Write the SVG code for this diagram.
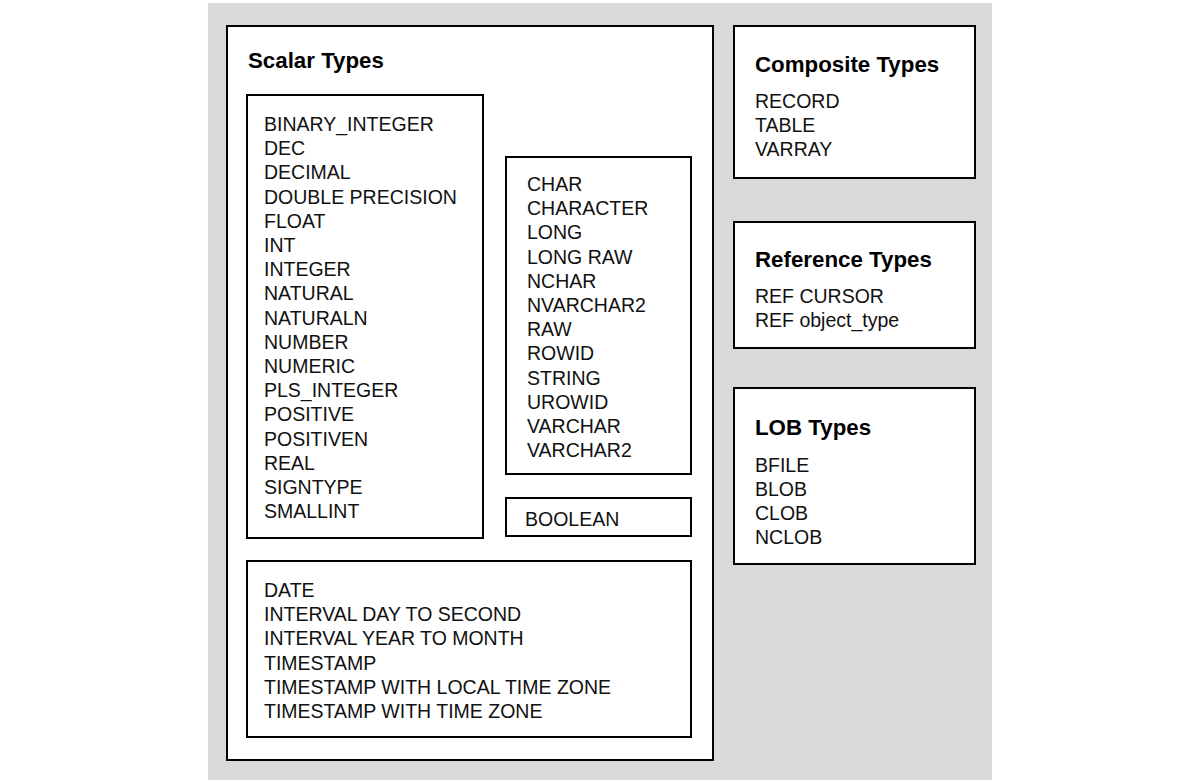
<svg xmlns="http://www.w3.org/2000/svg" width="1200" height="780" viewBox="0 0 1200 780">
<style>
.box{fill:#fff;stroke:#000;stroke-width:2}
.t{font-family:"Liberation Sans",Arial,sans-serif;font-size:19.5px;fill:#111}
.h{font-family:"Liberation Sans",Arial,sans-serif;font-size:22.3px;font-weight:bold;fill:#000}
</style>
<rect x="0" y="0" width="1200" height="780" fill="#fff"/>
<rect x="208" y="3" width="784" height="777" fill="#d9d9d9"/>
<g id="scalar">
<rect class="box" x="227" y="26" width="486" height="734"/>
<text class="h" x="248" y="68">Scalar Types</text>
</g>
<g id="numeric">
<rect class="box" x="247" y="95" width="236" height="443"/>
<text class="t" x="264" y="131">BINARY_INTEGER</text>
<text class="t" x="264" y="155.2">DEC</text>
<text class="t" x="264" y="179.4">DECIMAL</text>
<text class="t" x="264" y="203.6">DOUBLE PRECISION</text>
<text class="t" x="264" y="227.8">FLOAT</text>
<text class="t" x="264" y="252">INT</text>
<text class="t" x="264" y="276.2">INTEGER</text>
<text class="t" x="264" y="300.4">NATURAL</text>
<text class="t" x="264" y="324.6">NATURALN</text>
<text class="t" x="264" y="348.8">NUMBER</text>
<text class="t" x="264" y="373">NUMERIC</text>
<text class="t" x="264" y="397.2">PLS_INTEGER</text>
<text class="t" x="264" y="421.4">POSITIVE</text>
<text class="t" x="264" y="445.6">POSITIVEN</text>
<text class="t" x="264" y="469.8">REAL</text>
<text class="t" x="264" y="494">SIGNTYPE</text>
<text class="t" x="264" y="518.2">SMALLINT</text>
</g>
<g id="character">
<rect class="box" x="506" y="157" width="185" height="317"/>
<text class="t" x="527" y="191">CHAR</text>
<text class="t" x="527" y="215.2">CHARACTER</text>
<text class="t" x="527" y="239.4">LONG</text>
<text class="t" x="527" y="263.6">LONG RAW</text>
<text class="t" x="527" y="287.8">NCHAR</text>
<text class="t" x="527" y="312">NVARCHAR2</text>
<text class="t" x="527" y="336.2">RAW</text>
<text class="t" x="527" y="360.4">ROWID</text>
<text class="t" x="527" y="384.6">STRING</text>
<text class="t" x="527" y="408.8">UROWID</text>
<text class="t" x="527" y="433">VARCHAR</text>
<text class="t" x="527" y="457.2">VARCHAR2</text>
</g>
<g id="boolean">
<rect class="box" x="506" y="498" width="185" height="38"/>
<text class="t" x="525" y="526">BOOLEAN</text>
</g>
<g id="datetime">
<rect class="box" x="247" y="561" width="444" height="176"/>
<text class="t" x="264" y="597">DATE</text>
<text class="t" x="264" y="621.2">INTERVAL DAY TO SECOND</text>
<text class="t" x="264" y="645.4">INTERVAL YEAR TO MONTH</text>
<text class="t" x="264" y="669.6">TIMESTAMP</text>
<text class="t" x="264" y="693.8">TIMESTAMP WITH LOCAL TIME ZONE</text>
<text class="t" x="264" y="718">TIMESTAMP WITH TIME ZONE</text>
</g>
<g id="composite">
<rect class="box" x="734" y="26" width="241" height="152"/>
<text class="h" x="755" y="72">Composite Types</text>
<text class="t" x="755" y="108">RECORD</text>
<text class="t" x="755" y="132.2">TABLE</text>
<text class="t" x="755" y="156.4">VARRAY</text>
</g>
<g id="reference">
<rect class="box" x="734" y="222" width="241" height="126"/>
<text class="h" x="755" y="267">Reference Types</text>
<text class="t" x="755" y="303">REF CURSOR</text>
<text class="t" x="755" y="327.2">REF object_type</text>
</g>
<g id="lob">
<rect class="box" x="734" y="388" width="241" height="176"/>
<text class="h" x="755" y="435">LOB Types</text>
<text class="t" x="755" y="471.5">BFILE</text>
<text class="t" x="755" y="495.7">BLOB</text>
<text class="t" x="755" y="519.9">CLOB</text>
<text class="t" x="755" y="544.1">NCLOB</text>
</g>
<g id="connectors"></g>
</svg>
